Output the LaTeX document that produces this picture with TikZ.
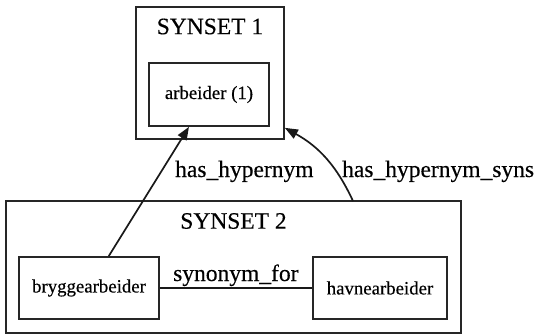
\documentclass[tikz,border=0pt]{standalone}
\usepackage{fontspec}
\setmainfont{Liberation Serif}
\newfontfamily\thickserif{Liberation Serif}[FakeBold=0.35]
\usetikzlibrary{arrows.meta,calc}
\tikzset{
  cluster/.style={draw=black!85, line width=1.7pt, inner sep=0pt, rectangle},
  wordbox/.style={draw=black!85, line width=1.7pt, inner sep=0pt, rectangle, font=\thickserif\fontsize{18.8}{20}\selectfont},
  biglabel/.style={inner sep=0pt, font=\thickserif\fontsize{23.5}{25}\selectfont},
  rel/.style={line width=1.7pt, draw=black!90, -{Triangle[length=13pt,width=10pt]}},
  plainrel/.style={line width=1.5pt, draw=black!90}
}
\begin{document}
\begin{tikzpicture}[x=1pt,y=1pt]
\useasboundingbox (0,0) rectangle (538,-334);
% clusters
\node[cluster, minimum width=148pt, minimum height=132pt] (c1) at (210,-73) {};
\node[cluster, minimum width=455pt, minimum height=132pt] (c2) at (233.5,-267) {};
\node[biglabel] (l1) at (210,-26.5) {SYNSET 1};
\node[biglabel] (l2) at (233.5,-221) {SYNSET 2};
% word nodes
\node[wordbox, minimum width=120pt, minimum height=63pt] (arb) at (209,-94.5) {arbeider (1)};
\node[wordbox, minimum width=140pt, minimum height=62pt] (bry) at (89,-288) {bryggearbeider};
\node[wordbox, minimum width=134pt, minimum height=62pt] (hav) at (380,-288) {havnearbeider};
% edges
\draw[plainrel] (bry) -- (hav);
\node[biglabel, anchor=base west] (syn) at (173,-281) {synonym\_for};
\draw[rel] (bry) -- (arb);
\node[biglabel, anchor=base west] (hh) at (175,-177) {has\_hypernym};
\coordinate (s2) at (353,-201);
\coordinate (t1) at ($(c1.south east)+(0,12)$);
\draw[rel] (s2) to[bend right=18] (t1);
\node[biglabel, anchor=base west] (hhs) at (342,-177) {has\_hypernym\_syns};
\end{tikzpicture}
\end{document}
